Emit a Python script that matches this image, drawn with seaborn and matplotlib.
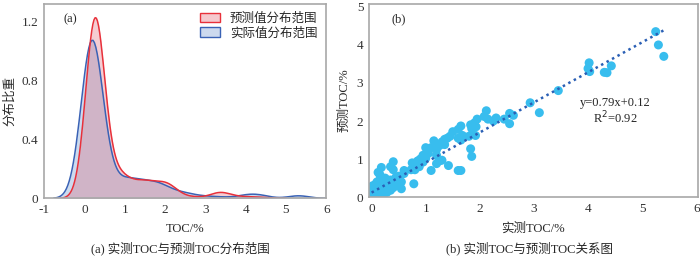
import numpy as np
import pandas as pd
import seaborn as sns
import matplotlib.pyplot as plt
from matplotlib.patches import Patch

# measured (actual) TOC and predicted TOC, paired samples
actual_low = [
    0.00, 0.00, 0.00, 0.00, 0.00, 0.02, 0.02, 0.02, 0.02, 0.02,
    0.05, 0.05, 0.05, 0.05, 0.05, 0.05, 0.05, 0.08, 0.08, 0.08,
    0.08, 0.08, 0.08, 0.08, 0.08, 0.10, 0.10, 0.10, 0.10, 0.10,
    0.10, 0.10, 0.10, 0.10, 0.10, 0.12, 0.12, 0.12, 0.12, 0.12,
    0.12, 0.12, 0.12, 0.12, 0.12, 0.15, 0.15, 0.15, 0.15, 0.15,
    0.15, 0.15, 0.15, 0.15, 0.15, 0.15, 0.18, 0.18, 0.18, 0.18,
    0.18, 0.18, 0.18, 0.18, 0.18, 0.18, 0.18, 0.20, 0.20, 0.20,
    0.20, 0.20, 0.20, 0.20, 0.20, 0.20, 0.20, 0.20, 0.22, 0.22,
    0.22, 0.22, 0.22, 0.22, 0.22, 0.22, 0.22, 0.22, 0.25, 0.25,
    0.25, 0.25, 0.25, 0.25, 0.25, 0.25, 0.25, 0.25, 0.28, 0.28,
    0.28, 0.28, 0.28, 0.28, 0.28, 0.28, 0.30, 0.30, 0.30, 0.30,
    0.30, 0.30, 0.30, 0.35, 0.35, 0.35, 0.35, 0.35, 0.35, 0.40,
    0.40, 0.40, 0.40, 0.40, 0.45, 0.45, 0.45, 0.45, 0.50, 0.50,
    0.50, 0.55, 0.55, 0.60, 0.60,
    0.05, 0.08, 0.10, 0.10, 0.12, 0.12, 0.14, 0.14, 0.15, 0.15,
    0.16, 0.16, 0.17, 0.17, 0.18, 0.18, 0.19, 0.19, 0.20, 0.20,
    0.20, 0.21, 0.21, 0.22, 0.22, 0.23, 0.23, 0.24, 0.24, 0.25,
    0.25, 0.26, 0.26, 0.27, 0.28, 0.29, 0.30, 0.32, 0.34, 0.38,
    0.05, 0.08, 0.11, 0.13, 0.16, 0.19, 0.21, 0.24, 0.27, 0.31,
    0.14, 0.17, 0.20, 0.23, 0.26, 0.18, 0.22, 0.12, 0.28, 0.33,
]
predicted_low = [
    0.08, 0.12, 0.15, 0.10, 0.13, 0.14, 0.30, 0.10, 0.18, 0.16,
    0.05, 0.20, 0.16, 0.30, 0.12, 0.22, 0.18, 0.35, 0.18, 0.22,
    0.12, 0.25, 0.15, 0.20, 0.21, 0.40, 0.10, 0.20, 0.25, 0.18,
    0.22, 0.15, 0.28, 0.21, 0.23, 0.65, 0.05, 0.35, 0.20, 0.24,
    0.18, 0.22, 0.26, 0.23, 0.25, 0.60, 0.10, 0.25, 0.45, 0.22,
    0.28, 0.20, 0.24, 0.30, 0.26, 0.27, 0.78, 0.30, 0.22, 0.26,
    0.25, 0.32, 0.20, 0.28, 0.24, 0.27, 0.29, 0.05, 0.15, 0.45,
    0.26, 0.30, 0.28, 0.22, 0.34, 0.27, 0.29, 0.31, 0.10, 0.35,
    0.28, 0.30, 0.25, 0.32, 0.26, 0.29, 0.31, 0.27, 0.25, 0.50,
    0.30, 0.33, 0.28, 0.35, 0.31, 0.27, 0.32, 0.29, 0.30, 0.12,
    0.34, 0.36, 0.32, 0.38, 0.29, 0.33, 0.38, 0.20, 0.35, 0.40,
    0.33, 0.30, 0.36, 0.80, 0.45, 0.18, 0.40, 0.36, 0.38, 0.93,
    0.72, 0.25, 0.42, 0.44, 0.52, 0.35, 0.46, 0.48, 0.55, 0.48,
    0.50, 0.40, 0.22, 0.70, 0.62,
    0.16, 0.18, 0.22, 0.20, 0.21, 0.24, 0.23, 0.25, 0.24, 0.26,
    0.25, 0.27, 0.26, 0.28, 0.27, 0.25, 0.28, 0.26, 0.27, 0.29,
    0.25, 0.28, 0.26, 0.29, 0.27, 0.30, 0.28, 0.30, 0.29, 0.31,
    0.30, 0.32, 0.29, 0.31, 0.33, 0.32, 0.35, 0.36, 0.38, 0.42,
    0.18, 0.20, 0.22, 0.24, 0.25, 0.26, 0.28, 0.30, 0.31, 0.35,
    0.23, 0.25, 0.27, 0.29, 0.31, 0.26, 0.28, 0.22, 0.33, 0.36,
]
actual_high = [
    0.73, 0.75, 0.78, 0.80, 0.80, 0.85, 0.88, 0.90, 0.95, 0.95,
    1.00, 1.00, 1.05, 1.05, 1.10, 1.10, 1.15, 1.20, 1.20, 1.20,
    1.25, 1.25, 1.30, 1.30, 1.35, 1.35, 1.40, 1.42, 1.45, 1.50,
    1.60, 1.60, 1.60, 1.65, 1.65, 1.65, 1.68, 1.80, 1.83, 1.83,
    1.85, 1.85, 1.90, 1.92, 1.93, 1.95, 2.08, 2.12, 2.15, 2.25,
    2.30, 2.45, 2.55, 2.55, 2.62, 2.93, 3.10, 3.45, 4.00, 4.02,
    4.03, 4.30, 4.35, 4.43, 5.25, 5.30, 5.40,
]
predicted_high = [
    0.72, 0.90, 0.35, 0.88, 0.72, 0.95, 0.80, 1.00, 1.10, 0.92,
    1.02, 1.30, 1.25, 1.15, 1.30, 0.70, 1.48, 1.25, 1.10, 0.88,
    1.35, 0.95, 1.45, 0.97, 1.52, 1.38, 1.55, 0.83, 1.60, 1.72,
    1.78, 1.55, 0.70, 1.87, 1.50, 0.70, 1.62, 1.60, 1.90, 1.27,
    1.80, 1.07, 1.95, 1.62, 1.85, 2.05, 2.12, 2.27, 2.05, 2.00,
    2.08, 2.05, 2.20, 1.93, 2.15, 2.48, 2.22, 2.80, 3.38, 3.53,
    3.30, 3.28, 3.27, 3.45, 4.35, 4.00, 3.70,
]
fit_slope, fit_intercept, fit_r2 = 0.79, 0.12, 0.92

actual = np.array(actual_low + actual_high)
predicted = np.array(predicted_low + predicted_high)
df = pd.DataFrame({"actual": actual, "predicted": predicted})

sns.set_style("white")
plt.rcParams['font.family'] = ['Liberation Serif', 'Noto Sans CJK SC']
plt.rcParams['axes.unicode_minus'] = False

fig = plt.figure(figsize=(7, 2.57), dpi=100)
ax1 = fig.add_axes([0.063, 0.228, 0.403, 0.757])
ax2 = fig.add_axes([0.527, 0.233, 0.470, 0.752])

red_line, red_fill = "#e8303a", "#de5a6b"
blue_line, blue_fill = "#3a62b5", "#3370c2"
bw_actual, bw_pred = 0.78, 0.85
# fills first, then outlines on top
sns.kdeplot(x=df["actual"], ax=ax1, fill=True, color=blue_fill, alpha=0.25,
            linewidth=0, bw_adjust=bw_actual)
sns.kdeplot(x=df["predicted"], ax=ax1, fill=True, color=red_fill, alpha=0.3,
            linewidth=0, bw_adjust=bw_pred)
sns.kdeplot(x=df["actual"], ax=ax1, color=blue_line, linewidth=1.1,
            bw_adjust=bw_actual)
sns.kdeplot(x=df["predicted"], ax=ax1, color=red_line, linewidth=1.1,
            bw_adjust=bw_pred)
ax1.set_xlim(-1, 6)
ax1.set_ylim(0, 1.317)
ax1.set_xticks(range(-1, 7))
ax1.set_yticks([0, 0.4, 0.8, 1.2])
ax1.set_yticklabels(["0", "0.4", "0.8", "1.2"])
ax1.set_xlabel("TOC/%", fontsize=9, labelpad=5)
ax1.set_ylabel("分布比重", fontsize=9, labelpad=4)
ax1.text(0.07, 0.95, "(a)", transform=ax1.transAxes, fontsize=9, va="top")
handles = [Patch(facecolor="#f5c8cd", edgecolor=red_line, linewidth=1),
           Patch(facecolor="#ccd9ee", edgecolor=blue_line, linewidth=1)]
ax1.legend(handles, ["预测值分布范围", "实际值分布范围"], loc="upper right",
           frameon=False, fontsize=9, handlelength=1.6, handleheight=0.8,
           borderaxespad=0.3, labelspacing=0.2)

sns.scatterplot(data=df, x="actual", y="predicted", ax=ax2, color="#38bdee",
                s=42, edgecolor="none", alpha=1)
fit_x = np.array([df["actual"].min(), df["actual"].max()])
sns.lineplot(x=fit_x, y=fit_slope * fit_x + fit_intercept, ax=ax2,
             color="#2a5fb5", linestyle=(0, (1, 1.5)), linewidth=1.8)
ax2.set_xlim(-0.05, 6.03)
ax2.set_ylim(0, 5.08)
ax2.set_xticks(range(0, 7))
ax2.set_yticks(range(0, 6))
ax2.set_xlabel("实测TOC/%", fontsize=9, labelpad=6)
ax2.set_ylabel("预测TOC/%", fontsize=9, labelpad=4)
ax2.text(0.07, 0.95, "(b)", transform=ax2.transAxes, fontsize=9, va="top")
ax2.text(4.5, 2.25, f"y={fit_slope}x+{fit_intercept}\nR$^2$={fit_r2}",
         fontsize=9, ha="center", va="center", linespacing=1.1)

for ax in (ax1, ax2):
    for sp in ax.spines.values():
        sp.set_color("#a8a8a8")
        sp.set_linewidth(1.2)
    ax.tick_params(direction="in", length=3, color="#a8a8a8", labelsize=9.5,
                   labelcolor="#333333", pad=4)

fig.text(0.257, 0.018, "(a) 实测TOC与预测TOC分布范围", ha="center", fontsize=9)
fig.text(0.757, 0.018, "(b) 实测TOC与预测TOC关系图", ha="center", fontsize=9)

fig.savefig("out.png", dpi=100)
